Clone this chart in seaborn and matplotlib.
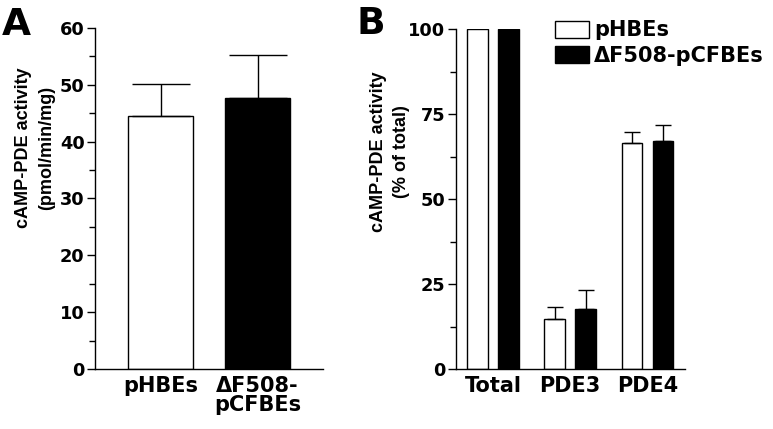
import matplotlib
matplotlib.use('Agg')
import matplotlib.pyplot as plt
import pandas as pd
import seaborn as sns
from matplotlib.ticker import MultipleLocator

# Data
cells = ['pHBEs', 'ΔF508-pCFBEs']
cell_ticks = ['pHBEs', 'ΔF508-\npCFBEs']
activity = [44.6, 47.6]        # pmol/min/mg
activity_err = [5.6, 7.7]

groups = ['Total', 'PDE3', 'PDE4']
pct_hbe = [100, 14.9, 66.4]    # % of total
pct_hbe_err = [0, 3.3, 3.2]
pct_cfbe = [100, 17.7, 67.0]
pct_cfbe_err = [0, 5.5, 4.9]

colors = {'pHBEs': 'white', 'ΔF508-pCFBEs': 'black'}

sns.set_style('ticks')
plt.rcParams['font.family'] = ['DejaVu Sans']
plt.rcParams['font.weight'] = 'bold'
plt.rcParams['axes.linewidth'] = 1.0
for key in ['text.color', 'axes.labelcolor', 'xtick.color', 'ytick.color',
            'axes.edgecolor']:
    plt.rcParams[key] = 'black'

fig = plt.figure(figsize=(7.73, 4.29), dpi=100)
axA = fig.add_axes([0.1229, 0.1399, 0.295, 0.7948])
axB = fig.add_axes([0.5895, 0.1392, 0.2963, 0.7932])

# Panel A
df_a = pd.DataFrame({'cell': cells, 'value': activity})
sns.barplot(data=df_a, x='cell', y='value', hue='cell', palette=colors,
            edgecolor='black', linewidth=1, width=0.67, legend=False, ax=axA)
for cont, err in zip(axA.containers, activity_err):
    for bar in cont:
        xc = bar.get_x() + bar.get_width() / 2
        axA.errorbar(xc, bar.get_height(), yerr=[[0], [err]], fmt='none',
                     ecolor='black', elinewidth=1, capsize=21, capthick=1, zorder=3)
axA.set_xlim(-0.675, 1.675)
axA.set_ylim(0, 60)
axA.yaxis.set_major_locator(MultipleLocator(10))
axA.yaxis.set_minor_locator(MultipleLocator(5))
axA.set_xticks([0, 1])
axA.set_xticklabels(cell_ticks, fontsize=15, fontweight='bold', linespacing=0.95)
axA.set_xlabel('')
axA.set_ylabel('cAMP-PDE activity\n(pmol/min/mg)', fontsize=13, fontweight='bold',
               family='Liberation Sans', linespacing=1.45)
axA.yaxis.set_label_coords(-0.175, 0.648)

# Panel B
df_b = pd.DataFrame({
    'group': groups * 2,
    'cell': [cells[0]] * 3 + [cells[1]] * 3,
    'value': pct_hbe + pct_cfbe,
})
sns.barplot(data=df_b, x='group', y='value', hue='cell', palette=colors,
            edgecolor='black', linewidth=1, width=0.8, gap=0.33, ax=axB)
for cont, errs in zip(axB.containers, [pct_hbe_err, pct_cfbe_err]):
    for bar, err in zip(cont, errs):
        if err <= 0:
            continue
        xc = bar.get_x() + bar.get_width() / 2
        axB.errorbar(xc, bar.get_height(), yerr=[[0], [err]], fmt='none',
                     ecolor='black', elinewidth=1, capsize=5.5, capthick=1, zorder=3)
axB.set_xlim(-0.484, 2.483)
axB.set_ylim(0, 100)
axB.yaxis.set_major_locator(MultipleLocator(25))
axB.yaxis.set_minor_locator(MultipleLocator(12.5))
axB.set_xlabel('')
axB.set_ylabel('cAMP-PDE activity\n(% of total)', fontsize=13, fontweight='bold',
               family='Liberation Sans', linespacing=1.45)
axB.yaxis.set_label_coords(-0.2, 0.64)
for lab in axB.get_xticklabels():
    lab.set_fontsize(15)
    lab.set_fontweight('bold')
handles, labels = axB.get_legend_handles_labels()
axB.legend(handles, labels, loc='upper left', bbox_to_anchor=(0.435, 1.025),
           frameon=False, handlelength=1.6, handleheight=0.9,
           handletextpad=0.25, labelspacing=0.25, borderpad=0, borderaxespad=0,
           prop={'weight': 'bold', 'size': 15})

for ax in (axA, axB):
    sns.despine(ax=ax)
    ax.tick_params(axis='y', which='major', direction='out', length=6, width=1,
                   pad=1.5, labelsize=12.8)
    ax.tick_params(axis='y', which='minor', direction='out', length=4, width=1)
    ax.tick_params(axis='x', length=0, pad=5)
    for lab in ax.get_yticklabels():
        lab.set_fontweight('bold')

fig.text(0.002, 0.918, 'A', fontsize=27, fontweight='bold')
fig.text(0.461, 0.92, 'B', fontsize=27, fontweight='bold')

fig.savefig('out.png', dpi=100)
